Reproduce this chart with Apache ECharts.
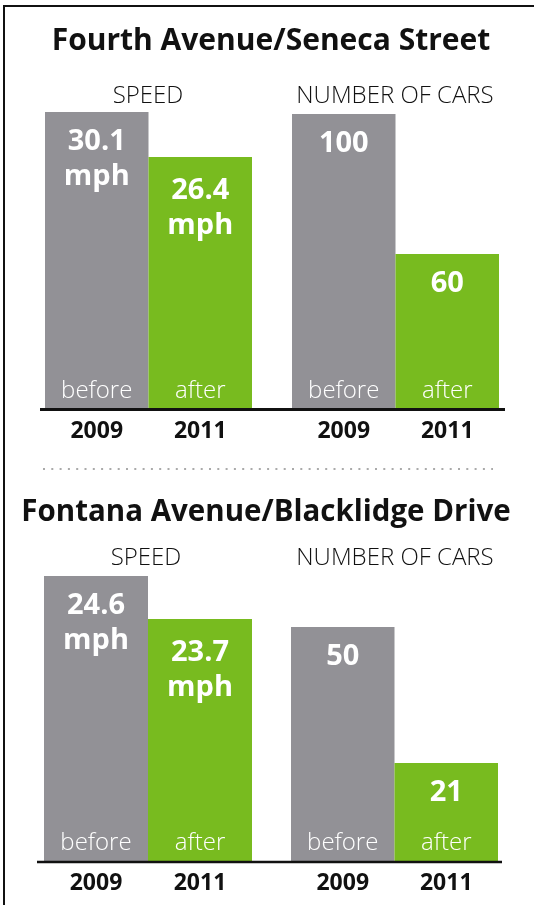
<!DOCTYPE html>
<html>
<head>
<meta charset="utf-8">
<script src="https://cdn.jsdelivr.net/npm/echarts@6/dist/echarts.min.js"></script>
<style>
  html, body { margin: 0; padding: 0; background: #fff; }
  #chart { width: 534px; height: 905px; }
</style>
</head>
<body>
<div id="chart"></div>
<script>
// ---- data ----
const sectionTitles = ['Fourth Avenue/Seneca Street', 'Fontana Avenue/Blacklidge Drive'];
const panelTitles = ['SPEED', 'NUMBER OF CARS'];
const years = ['2009', '2011'];
const phaseLabels = ['before', 'after'];
const fourthSpeed = [30.1, 26.4];   // mph
const fourthCars = [100, 60];
const fontanaSpeed = [24.6, 23.7];  // mph
const fontanaCars = [50, 21];

// ---- styling / layout ----
const FONT = '"Open Sans", "Noto Sans", sans-serif';
const barColors = ['#929196', '#78bb1f'];
const panels = [
  { data: fourthSpeed, unit: 'mph', grid: { left: 45, top: 112, width: 207, height: 297.5 }, range: [5.6, 30.1] },
  { data: fourthCars, unit: '', grid: { left: 292, top: 112, width: 207, height: 297.5 }, range: [15.6, 100.6] },
  { data: fontanaSpeed, unit: 'mph', grid: { left: 44, top: 576, width: 208, height: 285.5 }, range: [18.62, 24.6] },
  { data: fontanaCars, unit: '', grid: { left: 291, top: 576, width: 207, height: 285.5 }, range: [0, 60.9] }
];

const grids = [], xAxes = [], yAxes = [], series = [];
panels.forEach((p, i) => {
  grids.push(Object.assign({ containLabel: false }, p.grid));
  xAxes.push({
    type: 'category', gridIndex: i, data: years,
    axisLine: { show: false }, axisTick: { show: false },
    axisLabel: { color: '#111', fontFamily: FONT, fontWeight: 'bold', fontSize: 23, margin: 10 }
  });
  yAxes.push({
    type: 'value', gridIndex: i, min: p.range[0], max: p.range[1],
    show: false, splitLine: { show: false }
  });
  series.push({
    type: 'bar', xAxisIndex: i, yAxisIndex: i, barWidth: '100%', barGap: '-100%',
    data: p.data.map((v, j) => ({
      value: v,
      itemStyle: { color: barColors[j] },
      label: (p.unit && j === 1) ? { distance: 16 } : {}
    })),
    label: {
      show: true, position: 'insideTop', distance: 12,
      color: '#fff', fontFamily: FONT, fontWeight: 'bold', fontSize: 29, lineHeight: 35,
      formatter: prm => p.unit ? prm.value + '\n' + p.unit : String(prm.value)
    },
    silent: true, animation: false
  });
  series.push({
    type: 'bar', xAxisIndex: i, yAxisIndex: i, barWidth: '100%', barGap: '-100%', z: 3,
    data: p.data.slice(),
    itemStyle: { color: 'rgba(0,0,0,0)' },
    label: {
      show: true, position: 'insideBottom', distance: 6,
      color: '#fff', fontFamily: FONT, fontWeight: 300, fontSize: 24, lineHeight: 24,
      formatter: prm => phaseLabels[prm.dataIndex]
    },
    silent: true, animation: false
  });
});

const titleStyle = { color: '#111', fontFamily: FONT, fontWeight: 'bold', fontSize: 30 };
const subStyle = { color: '#111', fontFamily: FONT, fontWeight: 300, fontSize: 24 };
const titles = [
  { text: sectionTitles[0], left: 271, top: 26, textAlign: 'center', textStyle: titleStyle, padding: 0 },
  { text: panelTitles[0], left: 148, top: 84, textAlign: 'center', textStyle: subStyle, padding: 0 },
  { text: panelTitles[1], left: 395, top: 84, textAlign: 'center', textStyle: subStyle, padding: 0 },
  { text: sectionTitles[1], left: 266, top: 498, textAlign: 'center', textStyle: Object.assign({}, titleStyle, { fontSize: 29.5 }), padding: 0 },
  { text: panelTitles[0], left: 146, top: 546, textAlign: 'center', textStyle: subStyle, padding: 0 },
  { text: panelTitles[1], left: 395, top: 546, textAlign: 'center', textStyle: subStyle, padding: 0 }
];

const chart = echarts.init(document.getElementById('chart'), null, { renderer: 'canvas' });
chart.setOption({
  backgroundColor: '#fff',
  animation: false,
  title: titles,
  grid: grids,
  xAxis: xAxes,
  yAxis: yAxes,
  series: series,
  graphic: [
    { type: 'line', shape: { x1: 4, y1: 5, x2: 4, y2: 905 }, style: { stroke: '#111', lineWidth: 2 } },
    { type: 'line', shape: { x1: 3, y1: 6, x2: 534, y2: 6 }, style: { stroke: '#111', lineWidth: 2 } },
    { type: 'line', shape: { x1: 40, y1: 409.5, x2: 505, y2: 409.5 }, style: { stroke: '#111', lineWidth: 3 }, z: 10 },
    { type: 'line', shape: { x1: 37, y1: 862, x2: 502, y2: 862 }, style: { stroke: '#111', lineWidth: 2.6 }, z: 10 },
    { type: 'line', shape: { x1: 43, y1: 469, x2: 493, y2: 469 }, style: { stroke: '#aaa', lineWidth: 2, lineDash: [2, 6.3] } }
  ]
});
</script>
</body>
</html>
